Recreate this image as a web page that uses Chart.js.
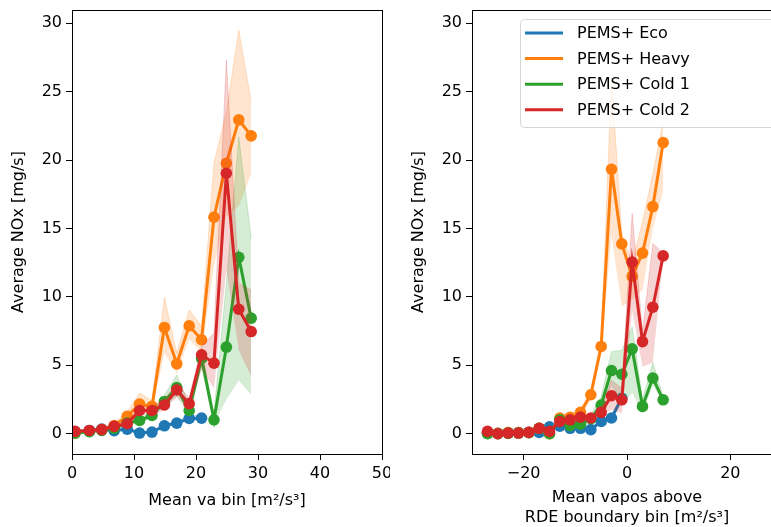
<!DOCTYPE html>
<html>
<head>
<meta charset="utf-8">
<script src="https://cdn.jsdelivr.net/npm/chart.js@4.4.0/dist/chart.umd.min.js"></script>
<style>
  html, body { margin: 0; padding: 0; background: #fff; overflow: hidden; }
  body { width: 771px; height: 527px; position: relative; }
  .box { position: absolute; top: 0; width: 390px; height: 527px; }
</style>
</head>
<body>
<div class="box" style="left:0"><canvas id="left"></canvas></div>
<div class="box" style="left:400px"><canvas id="right"></canvas></div>
<script>
// Namen der Serien und Farben (matplotlib tab10)
const seriesNames = ["PEMS+ Eco", "PEMS+ Heavy", "PEMS+ Cold 1", "PEMS+ Cold 2"];
const seriesColors = ["#1f77b4", "#ff7f0e", "#2ca02c", "#d62728"];
const bandColors = ["rgba(31,119,180,0.2)", "rgba(255,127,14,0.2)", "rgba(44,160,44,0.2)", "rgba(214,39,40,0.2)"];

// linke Grafik: Mean va bin
const leftBins = [0.5, 2.8, 4.8, 6.8, 8.9, 10.9, 12.9, 14.9, 16.9, 18.9, 20.9, 22.9, 24.9, 26.9, 28.9];
const leftEco = [0.12, 0.24, 0.34, 0.22, 0.34, 0.05, 0.12, 0.58, 0.78, 1.12, 1.14];
const leftEcoLo = [0.02, 0.15, 0.25, 0.12, 0.22, -0.05, 0.02, 0.45, 0.62, 0.95, 0.95];
const leftEcoHi = [0.22, 0.33, 0.45, 0.32, 0.46, 0.15, 0.22, 0.7, 0.95, 1.3, 1.35];
const leftHeavy = [0.05, 0.2, 0.3, 0.6, 1.27, 2.17, 2.0, 7.77, 5.11, 7.89, 6.87, 15.83, 19.77, 22.94, 21.77];
const leftHeavyLo = [-0.05, 0.1, 0.2, 0.4, 1.0, 1.5, 1.6, 5.9, 4.4, 6.9, 5.9, 12.3, 15.9, 16.6, 19.0];
const leftHeavyHi = [0.15, 0.3, 0.4, 0.8, 1.6, 2.97, 2.4, 9.96, 5.9, 9.06, 7.84, 19.8, 23.5, 29.5, 24.3];
const leftCold1 = [0.05, 0.15, 0.25, 0.4, 0.78, 0.97, 1.34, 2.36, 3.38, 1.7, 5.5, 1.02, 6.33, 12.9, 8.45];
const leftCold1Lo = [-0.05, 0.05, 0.15, 0.3, 0.6, 0.8, 1.1, 2.0, 2.7, 1.3, 4.8, 0.7, 2.5, 3.9, 2.85];
const leftCold1Hi = [0.15, 0.25, 0.35, 0.5, 0.95, 1.15, 1.6, 2.8, 4.3, 2.1, 6.2, 1.5, 11.0, 21.7, 14.3];
const leftCold2 = [0.17, 0.24, 0.3, 0.54, 0.73, 1.7, 1.7, 2.1, 3.2, 2.2, 5.77, 5.16, 19.04, 9.1, 7.47];
const leftCold2Lo = [0.07, 0.14, 0.2, 0.4, 0.55, 1.4, 1.4, 1.7, 2.7, 1.8, 4.7, 3.3, 12.0, 6.1, 4.2];
const leftCold2Hi = [0.27, 0.34, 0.4, 0.68, 0.9, 2.0, 2.0, 2.5, 3.7, 2.6, 6.4, 7.35, 27.3, 11.0, 10.5];

// rechte Grafik: Mean vapos above RDE boundary bin
const rightBins = [-27, -25, -23, -21, -19, -17, -15, -13, -11, -9, -7, -5, -3, -1, 1, 3, 5, 7];
const rightEco = [0.05, 0.03, 0.08, 0.08, 0.1, 0.1, 0.5, 0.55, 0.4, 0.4, 0.3, 0.9, 1.15, 2.6];
const rightEcoLo = [-0.05, -0.05, 0, 0, 0, 0, 0.35, 0.42, 0.3, 0.3, 0.2, 0.75, 0.95, 2.3];
const rightEcoHi = [0.15, 0.1, 0.15, 0.15, 0.2, 0.2, 0.65, 0.68, 0.5, 0.5, 0.4, 1.05, 1.35, 2.9];
const rightHeavy = [0.05, 0.03, 0.08, 0.08, 0.1, 0.4, 0.0, 1.15, 1.2, 1.56, 2.85, 6.38, 19.33, 13.88, 11.5, 13.2, 16.6, 21.28];
const rightHeavyLo = [-0.05, -0.05, 0, 0, 0, 0.25, -0.1, 0.95, 1.0, 1.3, 2.5, 5.9, 14.5, 9.3, 9.8, 10.5, 15.0, 17.7];
const rightHeavyHi = [0.15, 0.1, 0.15, 0.15, 0.2, 0.55, 0.1, 1.35, 1.4, 1.8, 3.2, 6.9, 26.0, 14.6, 12.5, 15.5, 19.0, 22.8];
const rightCold1 = [0.0, 0.0, 0.03, 0.05, 0.08, 0.4, 0.0, 1.02, 0.6, 0.7, 1.1, 2.1, 4.62, 4.35, 6.2, 2.0, 4.07, 2.48];
const rightCold1Lo = [-0.05, -0.05, -0.05, 0, 0, 0.2, -0.1, 0.85, 0.45, 0.5, 0.9, 1.6, 3.5, 2.0, 3.0, 1.5, 3.5, 2.3];
const rightCold1Hi = [0.1, 0.1, 0.1, 0.15, 0.15, 0.6, 0.1, 1.25, 0.8, 0.9, 1.4, 2.7, 6.0, 6.1, 7.8, 2.5, 5.2, 2.7];
const rightCold2 = [0.17, 0.0, 0.05, 0.05, 0.1, 0.4, 0.17, 0.9, 1.02, 1.22, 1.15, 1.56, 2.78, 2.48, 12.54, 6.74, 9.25, 13.0];
const rightCold2Lo = [0.07, -0.05, 0, 0, 0.03, 0.3, 0.05, 0.75, 0.85, 1.05, 1.0, 1.3, 1.75, 1.5, 9.0, 4.9, 5.2, 12.8];
const rightCold2Hi = [0.27, 0.07, 0.1, 0.1, 0.17, 0.5, 0.3, 1.05, 1.2, 1.4, 1.3, 1.85, 3.9, 3.3, 16.1, 7.5, 13.9, 13.2];

// Achsenbeschriftungen
const yTicks = [0, 5, 10, 15, 20, 25, 30];
const leftXTicks = [0, 10, 20, 30, 40, 50];
const rightXTicks = [-20, 0, 20];

const FONT = "'DejaVu Sans', sans-serif";

function pts(xs, ys) {
  return ys.map((y, i) => ({ x: xs[i], y: y }));
}

// Für jede Serie: untere Grenze, obere Grenze (gefüllt), Linie
function buildDatasets(xs, lines, los, his) {
  let ds = [];
  lines.forEach((line, i) => {
    let base = (3 - i) * 3;
    ds.push({
      label: "_lo", data: pts(xs, los[i]), pointRadius: 0, borderWidth: 0,
      fill: false, order: base + 2
    });
    ds.push({
      label: "_hi", data: pts(xs, his[i]), pointRadius: 0, borderWidth: 1,
      borderColor: bandColors[i], backgroundColor: bandColors[i],
      fill: "-1", order: base + 1
    });
    ds.push({
      label: seriesNames[i], data: pts(xs, line), borderColor: seriesColors[i],
      backgroundColor: seriesColors[i], borderWidth: 3, pointRadius: 5.8,
      pointBorderWidth: 0, fill: false, order: base
    });
  });
  return ds;
}

// Rahmen um die Zeichenfläche (wie matplotlib spines)
const framePlugin = {
  id: "frame",
  afterDatasetsDraw(chart) {
    const a = chart.chartArea, ctx = chart.ctx;
    ctx.save();
    ctx.strokeStyle = "#000";
    ctx.lineWidth = 1;
    ctx.strokeRect(Math.round(a.left) + 0.5, Math.round(a.top) + 0.5,
      Math.round(a.right - a.left), Math.round(a.bottom - a.top));
    ctx.restore();
  }
};

// Legende mit Kasten oben rechts
const boxLegend = {
  id: "boxLegend",
  afterDraw(chart, args, opts) {
    if (!opts.show) return;
    const ctx = chart.ctx;
    const x0 = opts.x, y0 = opts.y, w = opts.w, h = opts.h;
    ctx.save();
    ctx.beginPath();
    ctx.roundRect(x0 + 0.5, y0 + 0.5, w, h, 4);
    ctx.fillStyle = "rgba(255,255,255,0.8)";
    ctx.fill();
    ctx.strokeStyle = "rgba(204,204,204,0.8)";
    ctx.lineWidth = 1;
    ctx.stroke();
    ctx.font = "16px " + FONT;
    ctx.textBaseline = "middle";
    seriesNames.forEach((name, i) => {
      const y = y0 + 14 + i * 25.6;
      ctx.strokeStyle = seriesColors[i];
      ctx.lineWidth = 3;
      ctx.beginPath();
      ctx.moveTo(x0 + 5, y);
      ctx.lineTo(x0 + 43, y);
      ctx.stroke();
      ctx.fillStyle = "#000";
      ctx.fillText(name, x0 + 57, y + 1);
    });
    ctx.restore();
  }
};

function fixTicks(list) {
  return function (scale) {
    scale.ticks = list.map(v => ({ value: v }));
  };
}

function makeChart(id, xs, lines, los, his, xMin, xMax, xTicks, xTitle, titlePad, legend) {
  const ctx = document.getElementById(id).getContext("2d");
  return new Chart(ctx, {
    type: "line",
    data: { datasets: buildDatasets(xs, lines, los, his) },
    plugins: [framePlugin, boxLegend],
    options: {
      responsive: true,
      maintainAspectRatio: false,
      animation: false,
      layout: { padding: { top: 10, right: 8, left: 0, bottom: 0 } },
      plugins: {
        legend: { display: false },
        tooltip: { enabled: false },
        filler: { propagate: false },
        boxLegend: legend
      },
      scales: {
        x: {
          type: "linear", min: xMin, max: xMax,
          afterBuildTicks: fixTicks(xTicks),
          afterFit: s => { s.height = 73; s.paddingLeft = 0; s.paddingRight = 0; },
          ticks: {
            color: "#000", font: { family: FONT, size: 16 }, padding: 4, maxRotation: 0,
            callback: v => String(v).replace("-", "\u2212")
          },
          grid: { drawOnChartArea: false, drawTicks: true, tickLength: 6, color: "#000" },
          border: { display: false },
          title: {
            display: true, text: xTitle, color: "#000",
            font: { family: FONT, size: 16, lineHeight: 1.2 },
            padding: { top: 0, bottom: titlePad }
          }
        },
        y: {
          type: "linear", min: -1.48, max: 30.97,
          afterBuildTicks: fixTicks(yTicks),
          afterFit: s => { s.width = 72; s.paddingTop = 0; s.paddingBottom = 0; },
          ticks: { color: "#000", font: { family: FONT, size: 16 }, padding: 4 },
          grid: { drawOnChartArea: false, drawTicks: true, tickLength: 6, color: "#000" },
          border: { display: false },
          title: {
            display: true, text: "Average NOx [mg/s]", color: "#000",
            font: { family: FONT, size: 16, lineHeight: 1.2 },
            padding: { top: 9, bottom: 0 }
          }
        }
      }
    }
  });
}

makeChart("left", leftBins,
  [leftEco, leftHeavy, leftCold1, leftCold2],
  [leftEcoLo, leftHeavyLo, leftCold1Lo, leftCold2Lo],
  [leftEcoHi, leftHeavyHi, leftCold1Hi, leftCold2Hi],
  0, 50, leftXTicks, "Mean va bin [m\u00b2/s\u00b3]", 17, { show: false });

makeChart("right", rightBins,
  [rightEco, rightHeavy, rightCold1, rightCold2],
  [rightEcoLo, rightHeavyLo, rightCold1Lo, rightCold2Lo],
  [rightEcoHi, rightHeavyHi, rightCold1Hi, rightCold2Hi],
  -30, 30, rightXTicks, ["Mean vapos above", "RDE boundary bin [m\u00b2/s\u00b3]"], 0,
  { show: true, x: 120, y: 19, w: 262, h: 108 });
</script>
</body>
</html>
